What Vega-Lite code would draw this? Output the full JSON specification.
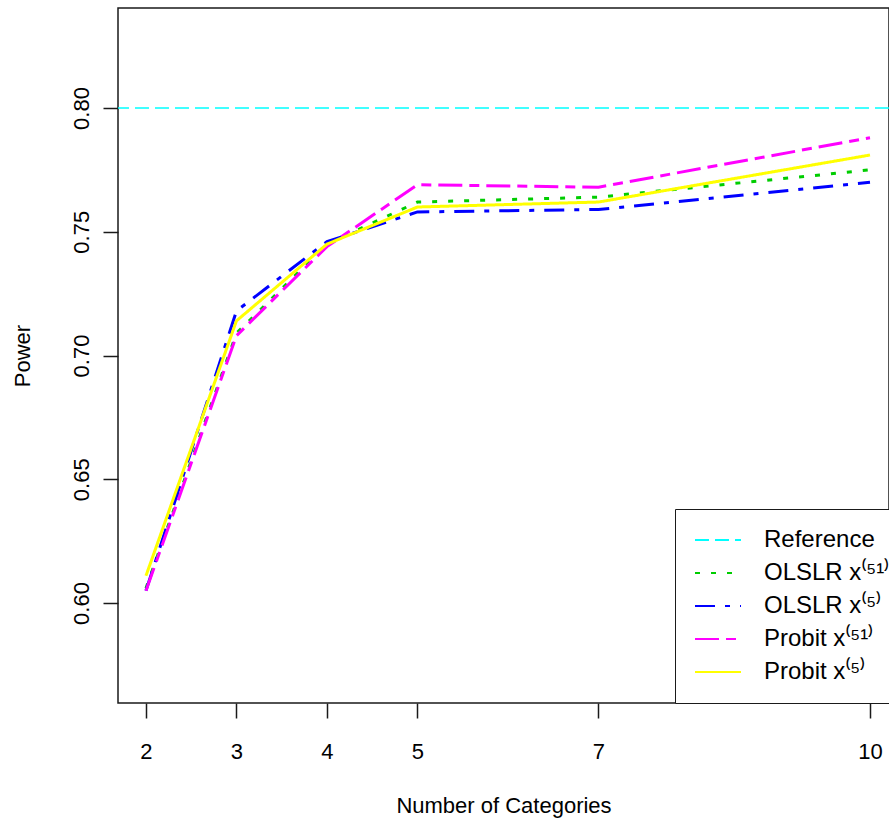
{
  "$schema": "https://vega.github.io/schema/vega-lite/v6.json",
  "autosize": "none",
  "padding": {"left": 118, "top": 8, "right": 0, "bottom": 120},
  "width": 771,
  "height": 695,
  "background": "white",
  "datasets": {
    "curves": [
      {"categories": 2, "series": "OLSLR x⁽⁵¹⁾", "power": 0.606},
      {"categories": 3, "series": "OLSLR x⁽⁵¹⁾", "power": 0.709},
      {"categories": 4, "series": "OLSLR x⁽⁵¹⁾", "power": 0.745},
      {"categories": 5, "series": "OLSLR x⁽⁵¹⁾", "power": 0.762},
      {"categories": 7, "series": "OLSLR x⁽⁵¹⁾", "power": 0.764},
      {"categories": 10, "series": "OLSLR x⁽⁵¹⁾", "power": 0.775},
      {"categories": 2, "series": "OLSLR x⁽⁵⁾", "power": 0.605},
      {"categories": 3, "series": "OLSLR x⁽⁵⁾", "power": 0.718},
      {"categories": 4, "series": "OLSLR x⁽⁵⁾", "power": 0.746},
      {"categories": 5, "series": "OLSLR x⁽⁵⁾", "power": 0.758},
      {"categories": 7, "series": "OLSLR x⁽⁵⁾", "power": 0.759},
      {"categories": 10, "series": "OLSLR x⁽⁵⁾", "power": 0.770},
      {"categories": 2, "series": "Probit x⁽⁵¹⁾", "power": 0.605},
      {"categories": 3, "series": "Probit x⁽⁵¹⁾", "power": 0.708},
      {"categories": 4, "series": "Probit x⁽⁵¹⁾", "power": 0.744},
      {"categories": 5, "series": "Probit x⁽⁵¹⁾", "power": 0.769},
      {"categories": 7, "series": "Probit x⁽⁵¹⁾", "power": 0.768},
      {"categories": 10, "series": "Probit x⁽⁵¹⁾", "power": 0.788},
      {"categories": 2, "series": "Probit x⁽⁵⁾", "power": 0.611},
      {"categories": 3, "series": "Probit x⁽⁵⁾", "power": 0.714},
      {"categories": 4, "series": "Probit x⁽⁵⁾", "power": 0.745},
      {"categories": 5, "series": "Probit x⁽⁵⁾", "power": 0.760},
      {"categories": 7, "series": "Probit x⁽⁵⁾", "power": 0.762},
      {"categories": 10, "series": "Probit x⁽⁵⁾", "power": 0.781}
    ],
    "reference": [
      {"series": "Reference", "power": 0.80}
    ]
  },
  "layer": [
    {
      "data": {"name": "reference"},
      "mark": {"type": "rule", "strokeWidth": 1.5},
      "encoding": {}
    },
    {
      "data": {"name": "curves"},
      "mark": {"type": "line", "strokeWidth": 3, "clip": true},
      "encoding": {
        "x": {
          "field": "categories",
          "type": "quantitative",
          "scale": {"domain": [1.691, 10.21], "nice": false, "zero": false},
          "axis": {
            "title": "Number of Categories",
            "values": [2, 3, 4, 5, 7, 10],
            "format": "d",
            "labelPadding": 23,
            "titlePadding": 33,
            "labelFlush": false,
            "labelOverlap": false
          }
        }
      }
    }
  ],
  "encoding": {
    "y": {
      "field": "power",
      "type": "quantitative",
      "scale": {"domain": [0.5596, 0.8404], "nice": false, "zero": false},
      "axis": {
        "title": "Power",
        "values": [0.6, 0.65, 0.7, 0.75, 0.8],
        "format": ".2f",
        "labelAngle": 270,
        "labelAlign": "center",
        "labelBaseline": "alphabetic",
        "labelPadding": 15,
        "titlePadding": 36,
        "labelFlush": false,
        "labelOverlap": false
      }
    },
    "color": {
      "field": "series",
      "type": "nominal",
      "scale": {
        "domain": ["Reference", "OLSLR x⁽⁵¹⁾", "OLSLR x⁽⁵⁾", "Probit x⁽⁵¹⁾", "Probit x⁽⁵⁾"],
        "range": ["#00FFFF", "#00CD00", "#0000FF", "#FF00FF", "#FFFF00"]
      }
    },
    "strokeDash": {
      "field": "series",
      "type": "nominal",
      "scale": {
        "domain": ["Reference", "OLSLR x⁽⁵¹⁾", "OLSLR x⁽⁵⁾", "Probit x⁽⁵¹⁾", "Probit x⁽⁵⁾"],
        "range": [[14, 6], [5, 11], [20, 10, 5, 10], [24, 7, 10, 7], [1, 0]]
      }
    }
  },
  "config": {
    "font": "Liberation Sans",
    "view": {"stroke": "#1a1a1a", "strokeWidth": 1.5},
    "axis": {
      "domain": false,
      "grid": false,
      "tickColor": "#1a1a1a",
      "tickWidth": 1.5,
      "tickSize": 15,
      "labelFont": "Liberation Sans",
      "labelFontSize": 22,
      "labelColor": "black",
      "titleFont": "Liberation Sans",
      "titleFontSize": 22,
      "titleFontWeight": "normal",
      "titleColor": "black"
    },
    "legend": {
      "orient": "none",
      "legendX": 557,
      "legendY": 501,
      "title": null,
      "strokeColor": "#1a1a1a",
      "fillColor": "white",
      "padding": 19,
      "rowPadding": 9,
      "clipHeight": 24,
      "symbolType": "stroke",
      "symbolSize": 2116,
      "symbolStrokeWidth": 2,
      "labelOffset": 22,
      "labelFont": "Liberation Sans",
      "labelFontSize": 24,
      "labelColor": "black",
      "labelLimit": 400
    }
  }
}
